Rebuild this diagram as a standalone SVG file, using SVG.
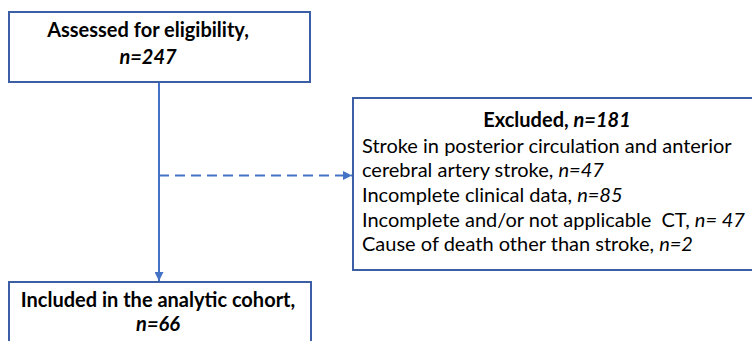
<svg xmlns="http://www.w3.org/2000/svg" width="752" height="341" viewBox="0 0 752 341">
<style>
.box{fill:#fff;stroke:#3B5EA6;stroke-width:2}
.t{font-family:Lato,"Liberation Sans",sans-serif;font-size:20px;fill:#000}
.b{font-weight:bold}
.i{font-style:italic}
.c{text-anchor:middle}
.conn{stroke:#4472C4;stroke-width:2;fill:none}
</style>
<defs>
<marker id="ah" viewBox="0 0 10 10" refX="10" refY="5" markerWidth="4.5" markerHeight="4.5" orient="auto" markerUnits="strokeWidth">
<path d="M0,0 L10,5 L0,10 z" fill="#4472C4"/>
</marker>
</defs>
<rect width="752" height="341" fill="#fff"/>
<g id="connectors">
<line class="conn" x1="159" y1="82" x2="159" y2="281" marker-end="url(#ah)"/>
<line class="conn" x1="159" y1="175.5" x2="352" y2="175.5" stroke-dasharray="10,6" marker-end="url(#ah)"/>
</g>
<g id="assessed">
<rect class="box" x="9" y="12" width="301" height="70"/>
<text class="t b c" x="148" y="37">Assessed for eligibility,</text>
<text class="t b i c" x="148" y="64">n=247</text>
</g>
<g id="excluded">
<rect class="box" x="353" y="98" width="410" height="172"/>
<text class="t b c" x="557" y="127">Excluded, <tspan class="i">n=181</tspan></text>
<text class="t" x="362" y="153">Stroke in posterior circulation and anterior</text>
<text class="t" x="362" y="177">cerebral artery stroke, <tspan class="i">n=47</tspan></text>
<text class="t" x="362" y="202">Incomplete clinical data, <tspan class="i">n=85</tspan></text>
<text class="t" x="362" y="227" xml:space="preserve">Incomplete and/or not applicable  CT, <tspan class="i">n= 47</tspan></text>
<text class="t" x="362" y="251">Cause of death other than stroke, <tspan class="i">n=2</tspan></text>
</g>
<g id="included">
<rect class="box" x="9" y="282" width="302" height="80"/>
<text class="t b c" x="158" y="307">Included in the analytic cohort,</text>
<text class="t b i c" x="158" y="331">n=66</text>
</g>
</svg>
